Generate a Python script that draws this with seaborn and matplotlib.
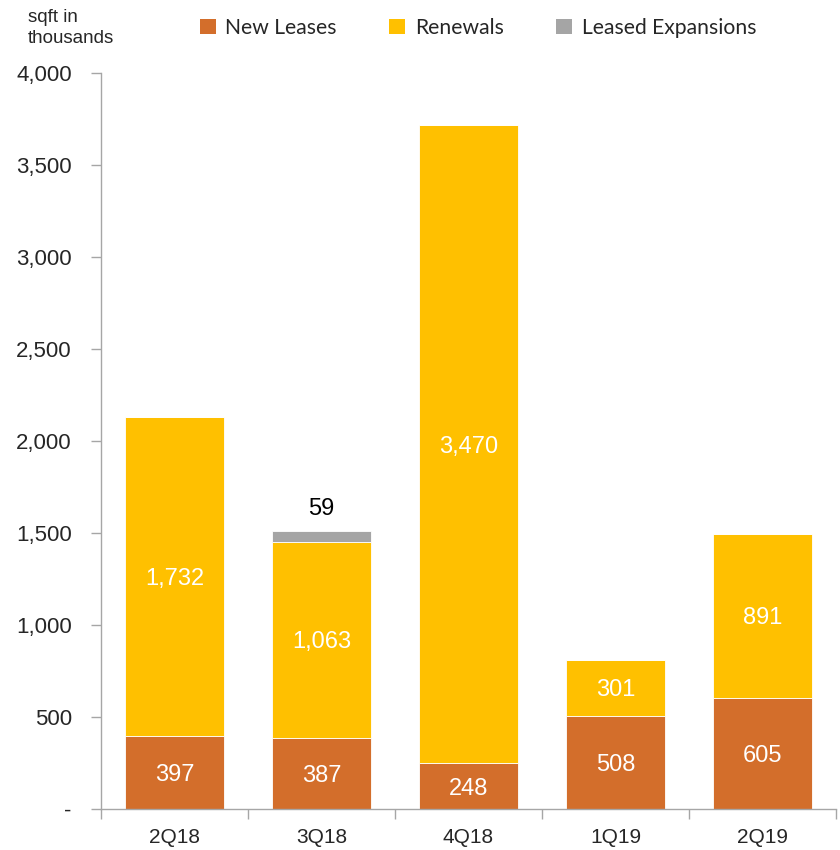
import matplotlib
matplotlib.use("Agg")
import matplotlib.pyplot as plt
import seaborn as sns
import numpy as np
from matplotlib.patches import Patch
from matplotlib.ticker import FixedLocator, FuncFormatter

quarters = ["2Q18", "3Q18", "4Q18", "1Q19", "2Q19"]
new_leases = [397, 387, 248, 508, 605]
renewals = [1732, 1063, 3470, 301, 891]
expansions = [0, 59, 0, 0, 0]
series_names = ["New Leases", "Renewals", "Leased Expansions"]
colors = ["#D36E2B", "#FFC000", "#A5A5A5"]
yticks = [0, 500, 1000, 1500, 2000, 2500, 3000, 3500, 4000]

sns.set_style("white")
plt.rcParams["font.family"] = ["Liberation Sans", "DejaVu Sans"]

fig = plt.figure(figsize=(8.4, 8.5), dpi=100)
ax = fig.add_axes([101/840, 41/850, 735/840, 736/850])

bottoms2 = np.array(new_leases)
bottoms3 = bottoms2 + np.array(renewals)
sns.barplot(x=quarters, y=new_leases, color=colors[0], width=0.67, ax=ax,
            saturation=1, edgecolor="white", linewidth=0.6)
sns.barplot(x=quarters, y=renewals, bottom=bottoms2, color=colors[1], width=0.67,
            ax=ax, saturation=1, edgecolor="white", linewidth=0.6)
sns.barplot(x=quarters, y=expansions, bottom=bottoms3, color=colors[2], width=0.67,
            ax=ax, saturation=1, edgecolor="white", linewidth=0.6)

for i in range(len(quarters)):
    ax.text(i, new_leases[i] / 2, f"{new_leases[i]:,}", ha="center",
            va="center_baseline", color="white", fontsize=17)
    ax.text(i, bottoms2[i] + renewals[i] / 2, f"{renewals[i]:,}", ha="center",
            va="center_baseline", color="white", fontsize=17)
    if expansions[i] > 0:
        ax.text(i, bottoms3[i] + expansions[i] + 60, f"{expansions[i]:,}",
                ha="center", va="bottom", color="black", fontsize=17)

ax.set_xlim(-0.5, len(quarters) - 0.5)
ax.set_ylim(0, 4000)
ax.yaxis.set_major_locator(FixedLocator(yticks))
ax.yaxis.set_major_formatter(FuncFormatter(lambda v, p: "-" if v == 0 else f"{int(v):,}"))
ax.set_xticks(range(len(quarters)))
ax.set_xticklabels(quarters)
ax.xaxis.set_minor_locator(FixedLocator(np.arange(-0.5, len(quarters), 1.0)))

for s in ["top", "right"]:
    ax.spines[s].set_visible(False)
for s in ["left", "bottom"]:
    ax.spines[s].set_color("#A6A6A6")
    ax.spines[s].set_linewidth(1.0)

ax.tick_params(axis="y", which="major", length=7, width=1, color="#A6A6A6",
               labelsize=16, pad=14, left=True)
ax.tick_params(axis="x", which="major", length=0, labelsize=15, pad=14)
ax.tick_params(axis="x", which="minor", length=7, width=1, color="#A6A6A6",
               bottom=True)
ax.set_xlabel("")
ax.set_ylabel("")
ax.grid(False)

fig.text(28/840, 1 - 9/850, "sqft in\nthousands", ha="left", va="top",
         fontsize=13.5, linespacing=1.3)

handles = [Patch(facecolor=c, edgecolor="none") for c in colors]
leg = fig.legend(handles, series_names, loc="center", ncol=3,
                 bbox_to_anchor=(478/840, 1 - 28/850), frameon=False,
                 prop={"family": "Lato", "size": 15.2}, handlelength=0.75,
                 handleheight=0.75, handletextpad=0.45, columnspacing=2.5)

fig.savefig("out.png", dpi=100)
